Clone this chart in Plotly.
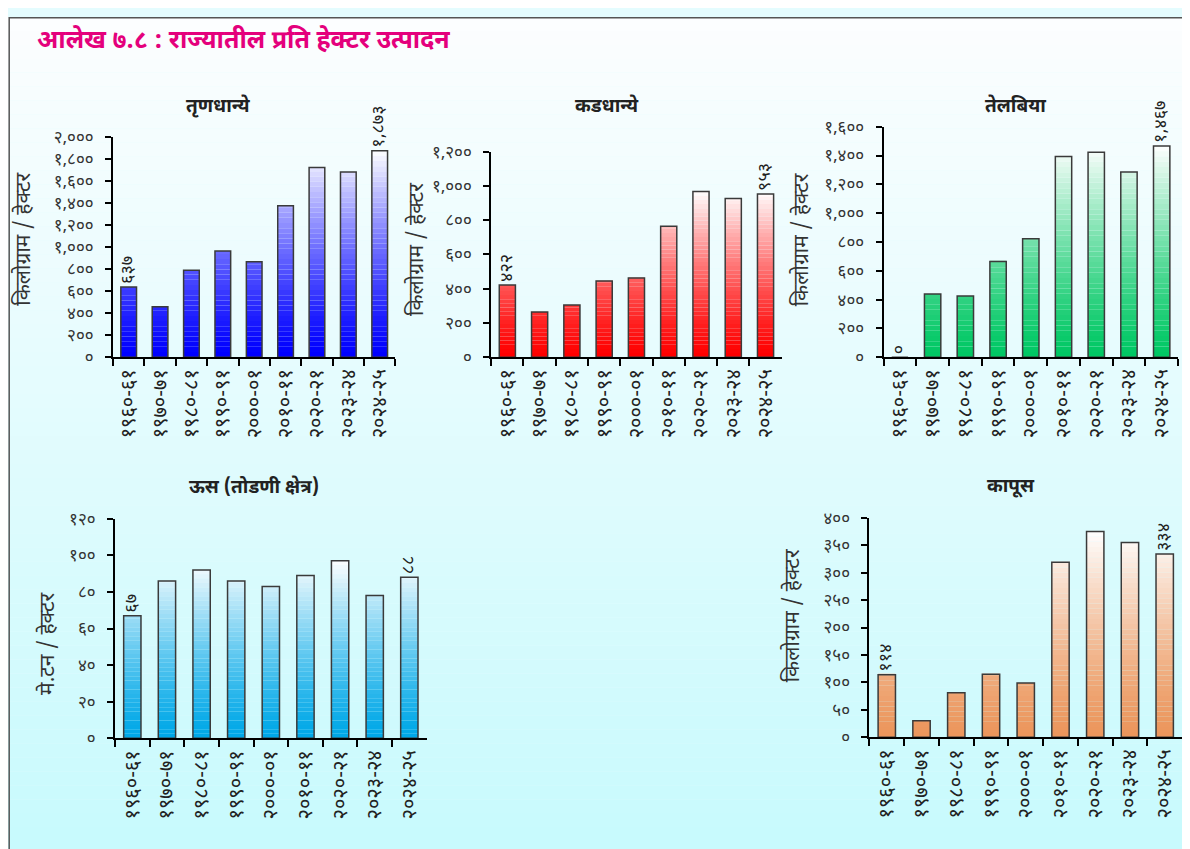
import plotly.graph_objects as go

# श्रेणी (वर्ष)
categories = ['१९६०-६१', '१९७०-७१', '१९८०-८१', '१९९०-९१', '२०००-०१',
              '२०१०-११', '२०२०-२१', '२०२३-२४', '२०२४-२५']

# प्रति हेक्टर उत्पादन
cereals = [637, 457, 788, 964, 866, 1373, 1721, 1679, 1873]
pulses = [422, 264, 305, 445, 462, 765, 967, 926, 953]
oilseeds = [0, 438, 425, 665, 822, 1394, 1422, 1286, 1467]
sugarcane = [67, 86, 92, 86, 83, 89, 97, 78, 88]
cotton = [114, 30, 81, 115, 99, 319, 375, 355, 334]

titles = ['तृणधान्ये', 'कडधान्ये', 'तेलबिया', 'ऊस (तोडणी क्षेत्र)', 'कापूस']
unit_titles = ['किलोग्राम / हेक्टर', 'किलोग्राम / हेक्टर', 'किलोग्राम / हेक्टर',
               'मे.टन / हेक्टर', 'किलोग्राम / हेक्टर']
y_max = [2000, 1200, 1600, 120, 400]
y_step = [200, 200, 200, 20, 50]

W, H = 1190, 860
FONT = "Noto Sans Devanagari, Noto Sans, Lohit Devanagari, sans-serif"
DEV = str.maketrans('0123456789', '०१२३४५६७८९')


def dev(v):
    return f"{v:,}".translate(DEV)


# page pixel -> paper fraction (calibrated against the screenshot)
def px_x(p):
    return min(1.0, max(0.0, ((p - 10.9) / 0.9915) / W))


def px_y(p):
    return min(1.0, max(0.0, 1 - ((p - 15.0) / 0.9768) / H))


# plot boxes in page pixels: (left, right, top, bottom)
boxes = [(115, 395, 135, 356), (490, 778, 150, 356), (879, 1171, 125, 356),
         (117, 426, 518, 738), (865, 1175, 517, 737)]
title_pos = [(220, 105), (605, 105), (1010, 105), (255, 487), (1005, 487)]
ytitle_pos = [(28, 238), (418, 248), (800, 238), (52, 643), (790, 615)]

series = [cereals, pulses, oilseeds, sugarcane, cotton]
bottoms = [(0, 0, 255), (255, 0, 0), (0, 200, 100), (0, 168, 232), (236, 150, 92)]
N = 40

fig = go.Figure()
annotations = []

for i, vals in enumerate(series):
    n = i + 1
    xa = 'x' if n == 1 else f'x{n}'
    ya = 'y' if n == 1 else f'y{n}'
    top = max(vals)
    r0, g0, b0 = bottoms[i]
    # gradient made from thin stacked slices
    for k in range(N):
        lo = top * k / N
        hi = top * (k + 1) / N
        f = ((k + 0.5) / N) ** 1.3
        col = f"rgb({int(r0 + (255 - r0) * f)},{int(g0 + (255 - g0) * f)},{int(b0 + (255 - b0) * f)})"
        hts = [max(0, min(v, hi) - lo) for v in vals]
        fig.add_trace(go.Bar(x=categories, y=hts, base=lo, xaxis=xa, yaxis=ya,
                             marker=dict(color=col, line=dict(width=0)),
                             showlegend=False, hoverinfo='skip'))
    labels = [''] * len(vals)
    labels[0] = dev(vals[0])
    labels[-1] = dev(vals[-1])
    fig.add_trace(go.Bar(x=categories, y=vals, xaxis=xa, yaxis=ya,
                         marker=dict(color='rgba(0,0,0,0)', line=dict(color='#3a3a3a', width=1.5)),
                         text=labels, textposition='outside', textangle=-90,
                         constraintext='none',
                         textfont=dict(size=18, color='#222', family=FONT),
                         cliponaxis=False, showlegend=False))

    l, r, t, b = boxes[i]
    tickvals = list(range(0, y_max[i] + 1, y_step[i]))
    fig.update_layout(**{
        ('xaxis' if n == 1 else f'xaxis{n}'): dict(
            domain=[px_x(l), px_x(r)], anchor=ya, type='category',
            showline=True, linecolor='black', linewidth=2,
            ticks='outside', tickson='boundaries', ticklen=7, tickwidth=2, tickcolor='black',
            tickangle=-90, tickfont=dict(size=20, color='#222', family=FONT),
            ticklabelstandoff=2,
            showgrid=False, fixedrange=True),
        ('yaxis' if n == 1 else f'yaxis{n}'): dict(
            domain=[px_y(b), px_y(t)], anchor=xa, range=[0, y_max[i]],
            tickvals=tickvals, ticktext=[dev(v) for v in tickvals],
            showline=True, linecolor='black', linewidth=2,
            ticks='outside', ticklen=6, tickwidth=2, tickcolor='black',
            tickfont=dict(size=17, color='#333', family=FONT),
            ticklabelstandoff=8,
            showgrid=False, zeroline=False, fixedrange=True),
    })

    tx, ty = title_pos[i]
    annotations.append(dict(text=f"<b>{titles[i]}</b>", x=px_x(tx), y=px_y(ty),
                            xref='paper', yref='paper', xanchor='center', yanchor='middle',
                            showarrow=False,
                            font=dict(size=19, color='#222', family=FONT)))
    ux, uy = ytitle_pos[i]
    annotations.append(dict(text=unit_titles[i], x=px_x(ux), y=px_y(uy),
                            xref='paper', yref='paper', xanchor='center', yanchor='middle',
                            showarrow=False, textangle=-90,
                            font=dict(size=21, color='#333', family=FONT)))

annotations.append(dict(text="<b>आलेख ७.८ : राज्यातील प्रति हेक्टर उत्पादन</b>",
                        x=px_x(38), y=px_y(40), xref='paper', yref='paper',
                        xanchor='left', yanchor='middle', showarrow=False,
                        font=dict(size=25, color='#e4007c', family=FONT)))

# background gradient and frame
shapes = []
S = 60
for k in range(S):
    f = k / (S - 1)
    col = f"rgb({int(252 - 52 * f)},{int(254 - 4 * f)},{int(255 - 2 * f)})"
    shapes.append(dict(type='rect', xref='paper', yref='paper', layer='below',
                       x0=0, x1=1, y0=1 - (k + 1) / S, y1=1 - k / S,
                       fillcolor=col, line=dict(width=0)))
shapes.append(dict(type='rect', xref='paper', yref='paper', layer='above',
                   x0=0.001, x1=1.01, y0=-0.01, y1=0.999,
                   fillcolor='rgba(0,0,0,0)', line=dict(color='#555', width=1.5)))

fig.update_layout(
    width=W, height=H,
    margin=dict(l=0, r=0, t=0, b=0),
    barmode='overlay', bargap=0.5,
    paper_bgcolor='#e4fcfe', plot_bgcolor='rgba(0,0,0,0)',
    font=dict(family=FONT, color='#222'),
    annotations=annotations, shapes=shapes,
    showlegend=False,
)

fig.write_html("out.html")
